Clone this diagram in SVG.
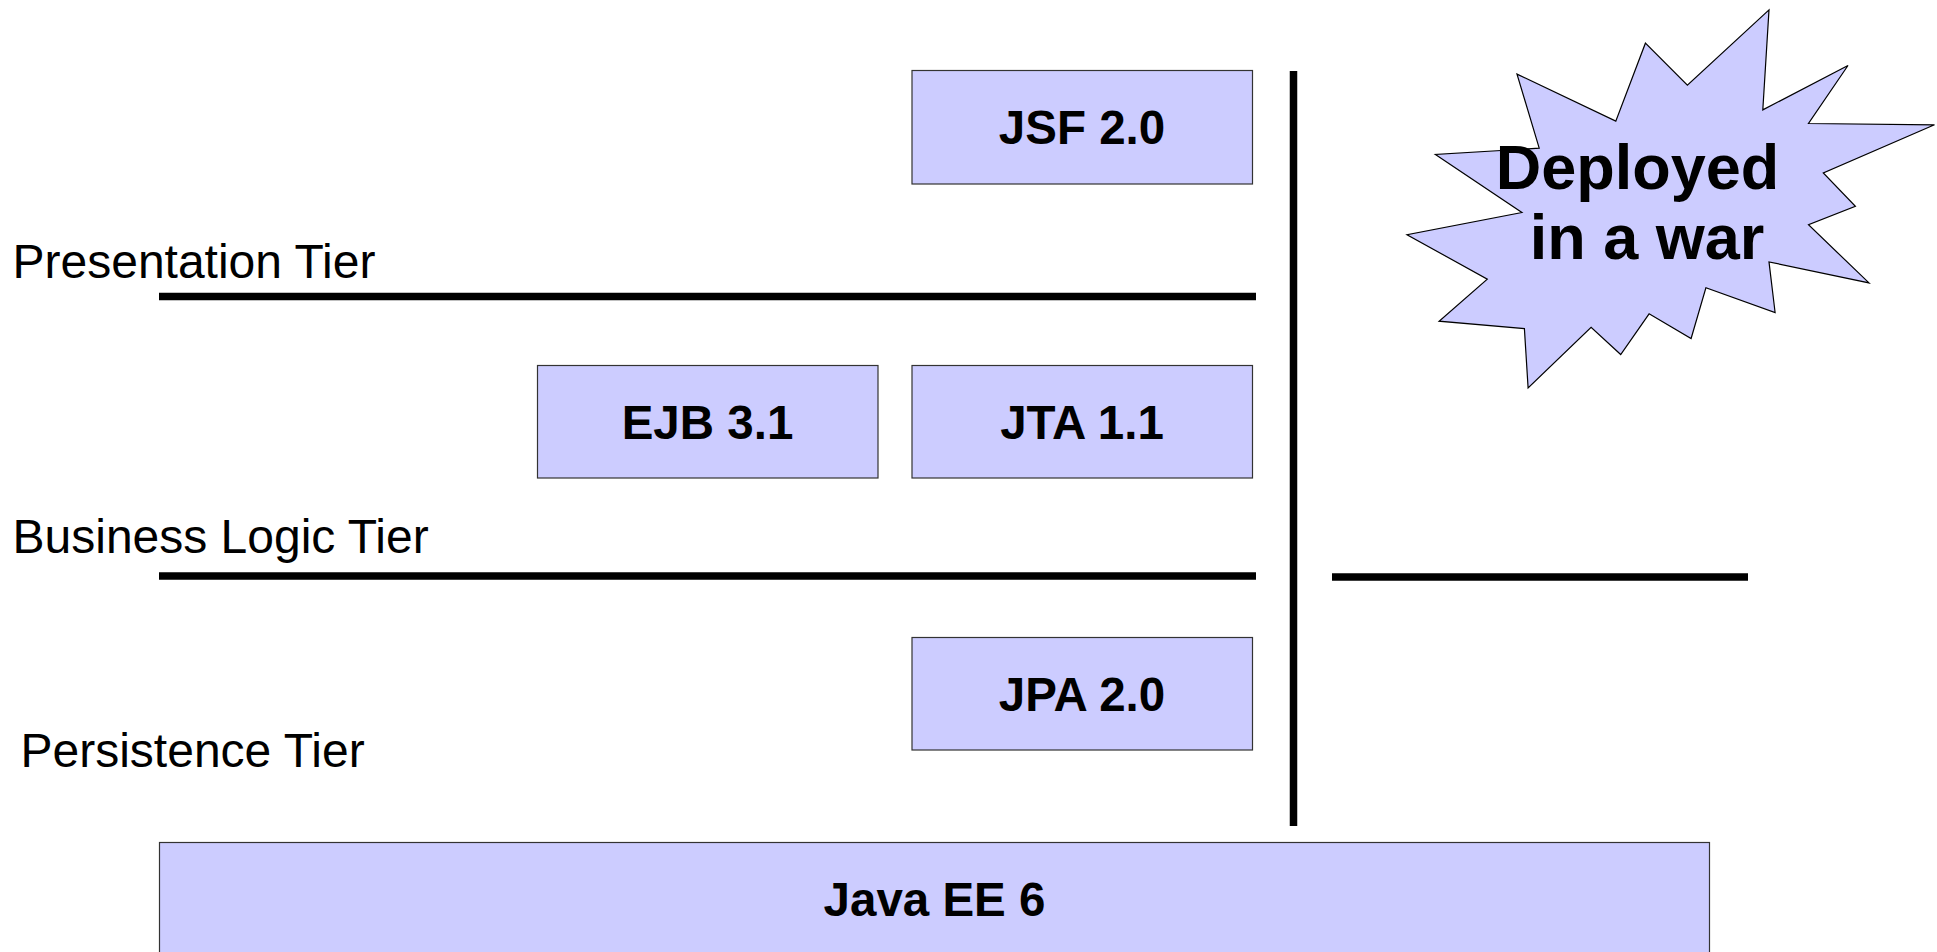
<svg xmlns="http://www.w3.org/2000/svg" width="1937" height="952" viewBox="0 0 1937 952">
<style>
.box{fill:#ccccff;stroke:#333333;stroke-width:1.2}
.lbl{font-family:"Liberation Sans",Arial,sans-serif;font-weight:bold;font-size:47.5px;fill:#000;text-anchor:middle}
.tier{font-family:"Liberation Sans",Arial,sans-serif;font-size:48px;fill:#000}
.bar{stroke:#000;stroke-width:7.5;fill:none}
.burst{fill:#ccccff;stroke:#000;stroke-width:1.2;stroke-linejoin:miter}
.big{font-family:"Liberation Sans",Arial,sans-serif;font-weight:bold;font-size:63px;fill:#000;text-anchor:middle}
</style>
<rect width="1937" height="952" fill="#ffffff"/>
<g id="tier-labels">
<text class="tier" x="12.5" y="278">Presentation Tier</text>
<text class="tier" x="12.5" y="553">Business Logic Tier</text>
<text class="tier" x="20.5" y="767">Persistence Tier</text>
</g>
<g id="connectors">
<line class="bar" x1="159" y1="296.5" x2="1256" y2="296.5"/>
<line class="bar" x1="159" y1="576" x2="1256" y2="576"/>
<line class="bar" x1="1332" y1="577" x2="1748" y2="577"/>
<line class="bar" x1="1293.5" y1="71" x2="1293.5" y2="826"/>
</g>
<g id="jsf">
<rect class="box" x="912" y="70.5" width="340.5" height="113.5"/>
<text class="lbl" x="1082" y="144">JSF 2.0</text>
</g>
<g id="ejb">
<rect class="box" x="537.5" y="365.5" width="340.5" height="112.5"/>
<text class="lbl" x="707.5" y="439">EJB 3.1</text>
</g>
<g id="jta">
<rect class="box" x="912" y="365.5" width="340.5" height="112.5"/>
<text class="lbl" x="1082" y="439">JTA 1.1</text>
</g>
<g id="jpa">
<rect class="box" x="912" y="637.5" width="340.5" height="112.5"/>
<text class="lbl" x="1082" y="711">JPA 2.0</text>
</g>
<g id="javaee">
<rect class="box" x="159.5" y="842.5" width="1550" height="113.5"/>
<text class="lbl" x="934.5" y="916">Java EE 6</text>
</g>
<g id="deployed">
<polygon class="burst" points="1517,74.1 1615.8,121.1 1645.4,43.2 1687.4,85.2 1769,9.9 1762.8,109.9 1848,65.5 1808.5,123.5 1934.5,124.8 1823.3,172.9 1855.4,206.3 1808.5,224.8 1869,282.9 1769,261.9 1775.1,312.5 1705.9,287.8 1691.1,338.5 1649.1,313.8 1620.7,354.5 1591.1,327.4 1528.1,387.9 1524.4,328.6 1439.1,321.2 1487.3,279.2 1407,234.7 1521.9,212.5 1435.4,154.4 1539.2,148.2"/>
<text class="big" x="1637.5" y="188.5">Deployed</text>
<text class="big" x="1647" y="258.5">in a war</text>
</g>
</svg>
